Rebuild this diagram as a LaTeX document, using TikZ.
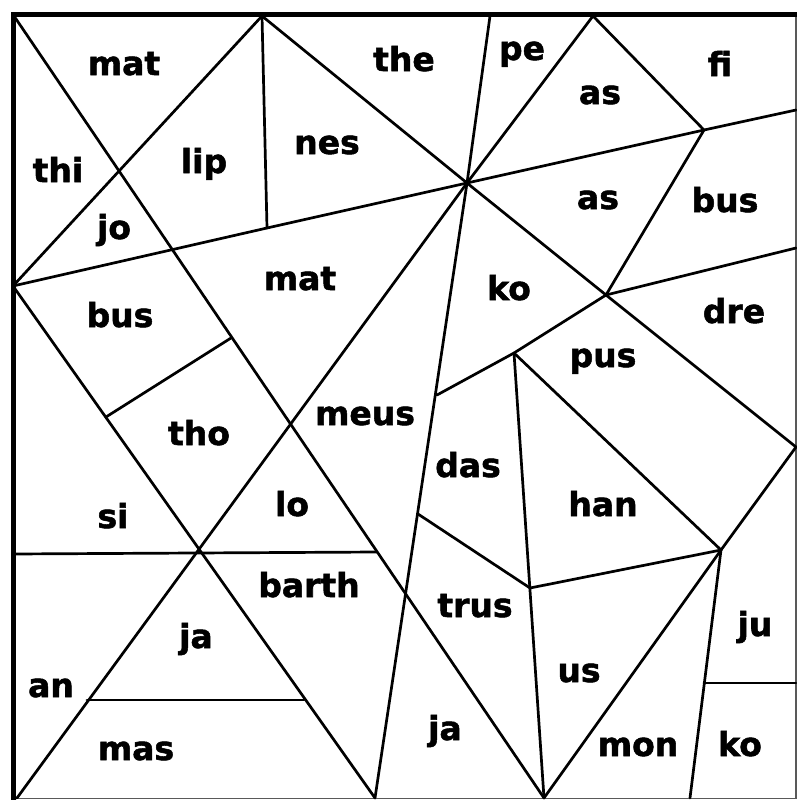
\documentclass[tikz,border=0pt]{standalone}
\usepackage{fontspec}
\setmainfont{DejaVu Sans}
\newfontfamily\heavyfont[FakeBold=1.6]{DejaVu Sans Bold}
\begin{document}
\begin{tikzpicture}[x=1pt,y=-1pt,
  seg/.style={line width=2.7pt, line cap=round, line join=round},
  lbl/.style={anchor=base, inner sep=0pt, font=\fontsize{33}{40}\selectfont\heavyfont}]
\useasboundingbox (0,0) rectangle (797,800);
% key points
\coordinate (A) at (13,14.5);
\coordinate (T1) at (262,16);
\coordinate (T2) at (490,16);
\coordinate (T3) at (593,16);
\coordinate (C) at (467,183);
\coordinate (F) at (704,130);
\coordinate (Rf) at (796,110);
\coordinate (G) at (606,295);
\coordinate (Rg) at (796,248);
\coordinate (Rp) at (796,447);
\coordinate (H) at (721,550);
\coordinate (Lm) at (13,286);
\coordinate (V) at (267,228);
\coordinate (P1) at (437,395);
\coordinate (Q) at (514,353);
\coordinate (D) at (418,514);
\coordinate (E) at (530,588);
\coordinate (B1) at (544,798);
\coordinate (B23) at (375,798);
\coordinate (B4) at (17,798);
\coordinate (B5) at (690,798);
\coordinate (K) at (704,683);
\coordinate (Rk) at (796,683);
\coordinate (Hl) at (13,554);
\coordinate (J) at (377,552);
\coordinate (Nl) at (87,700);
\coordinate (Nr) at (304,700);
\coordinate (Ta) at (106,417);
\coordinate (Tb) at (231,338);
% frame
\draw[gray!70!black, line width=1.4pt] (796,14.5) -- (796,798.5) -- (13,798.5);
\draw[line width=5pt] (13,800) -- (A) -- (797,14.5);
% long lines
\draw[seg] (Lm) -- (V) -- (C) -- (F) -- (Rf);
\draw[seg] (A) -- (B1);
\draw[seg] (T1) -- (Lm);
\draw[seg] (Lm) -- (B23);
\draw[seg] (C) -- (B4);
\draw[seg] (C) -- (B23);
\draw[seg] (T1) -- (V);
\draw[seg] (T1) -- (C);
\draw[seg] (T2) -- (C);
\draw[seg] (C) -- (T3) -- (F) -- (G) -- (C);
\draw[seg] (G) -- (Rg);
\draw[seg] (G) -- (Q) -- (P1);
\draw[seg] (G) -- (Rp) -- (H);
\draw[seg] (Q) -- (H);
\draw[seg] (Q) -- (B1);
\draw[seg] (D) -- (E) -- (H);
\draw[seg] (H) -- (B1);
\draw[seg] (H) -- (B5);
\draw[seg] (K) -- (Rk);
\draw[seg] (Hl) -- (J);
\draw[seg] (Nl) -- (Nr);
\draw[seg] (Ta) -- (Tb);
% labels
\node[lbl] (l1) at (124,75) {mat};
\node[lbl] (l2) at (58,182) {thi};
\node[lbl] (l3) at (204,173) {lip};
\node[lbl] (l4) at (114,239) {jo};
\node[lbl] (l5) at (327,154) {nes};
\node[lbl] (l6) at (404,71) {the};
\node[lbl] (l7) at (522,60) {pe};
\node[lbl] (l8) at (600,104) {as};
\node[lbl] (l9) at (720,76) {fi};
\node[lbl] (l10) at (598,209) {as};
\node[lbl] (l11) at (725,212) {bus};
\node[lbl] (l12) at (509,300) {ko};
\node[lbl] (l13) at (300,290) {mat};
\node[lbl] (l14) at (120,327) {bus};
\node[lbl] (l15) at (734,323) {dre};
\node[lbl] (l16) at (603,367) {pus};
\node[lbl] (l17) at (365,425) {meus};
\node[lbl] (l18) at (468,477) {das};
\node[lbl] (l19) at (603,516) {han};
\node[lbl] (l20) at (199,445) {tho};
\node[lbl] (l21) at (113,528) {si};
\node[lbl] (l22) at (292,516) {lo};
\node[lbl] (l23) at (309,597) {barth};
\node[lbl] (l24) at (196,648) {ja};
\node[lbl] (l25) at (51,697) {an};
\node[lbl] (l26) at (136,760) {mas};
\node[lbl] (l27) at (475,617) {trus};
\node[lbl] (l28) at (579,682) {us};
\node[lbl] (l29) at (755,636) {ju};
\node[lbl] (l30) at (445,740) {ja};
\node[lbl] (l31) at (638,756) {mon};
\node[lbl] (l32) at (740,756) {ko};
\end{tikzpicture}
\end{document}
